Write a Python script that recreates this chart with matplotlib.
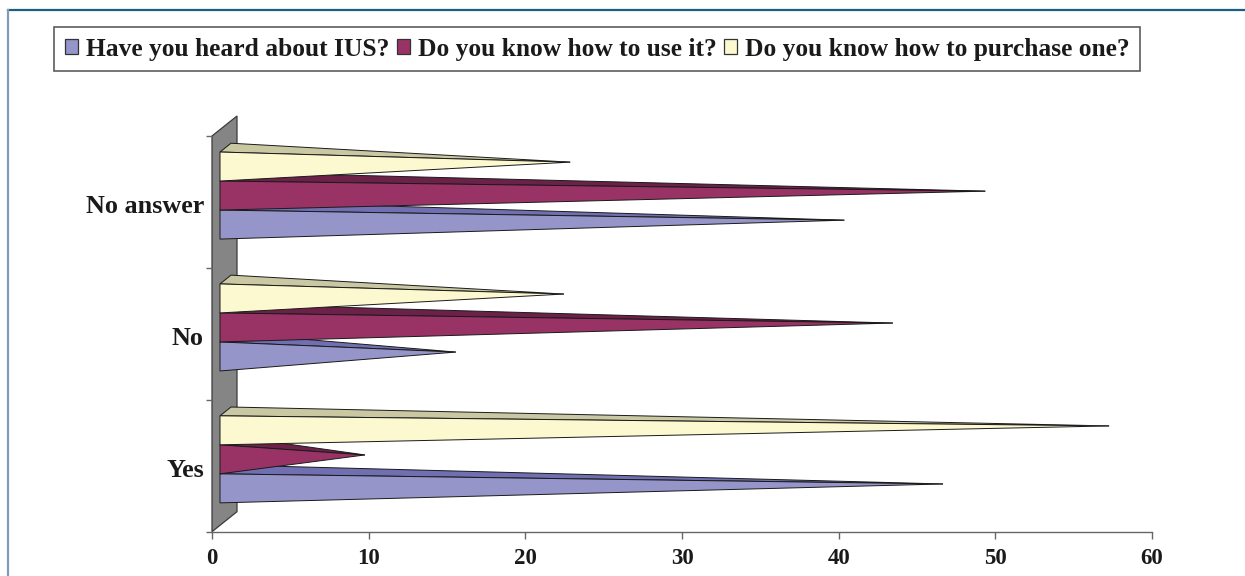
import matplotlib
matplotlib.use("Agg")
import matplotlib.pyplot as plt
from matplotlib.patches import Polygon, Patch
from matplotlib.lines import Line2D

# ---- data -------------------------------------------------------------
categories = ["Yes", "No", "No answer"]
series_names = [
    "Have you heard about IUS?",
    "Do you know how to use it?",
    "Do you know how to purchase one?",
]
heard = [45.8, 14.7, 39.5]
know_use = [8.9, 42.6, 48.5]
know_buy = [56.4, 21.6, 22.0]
x_ticks = [0, 10, 20, 30, 40, 50, 60]

# ---- style ------------------------------------------------------------
front_colors = ["#9595c9", "#993366", "#fcf8d0"]
top_colors = ["#6f6fb2", "#6c2248", "#c9c8a2"]
wall_color = "#858585"
edge_color = "#1a1a1a"

plt.rcParams["font.family"] = ["Liberation Serif", "DejaVu Serif"]
plt.rcParams["font.weight"] = "bold"

FIG_W, FIG_H, DPI = 1245, 576, 100
fig = plt.figure(figsize=(FIG_W / DPI, FIG_H / DPI), dpi=DPI)

ax_left, ax_right = 212, 1152
ax_bottom, ax_top = 531.7, 136
ax = fig.add_axes([ax_left / FIG_W, (FIG_H - ax_bottom) / FIG_H,
                   (ax_right - ax_left) / FIG_W, (ax_bottom - ax_top) / FIG_H])
ax.set_xlim(0, 60)
ax.set_ylim(0, len(categories))

# size of one pixel in data units
px_x = 60 / (ax_right - ax_left)
px_y = len(categories) / (ax_bottom - ax_top)

# oblique depth of the plot box (pixels, right / up)
depth_dx, depth_dy = 25, 20
bar_front, bar_back = 0.32, 0.76
group_width = 0.66
bar_h = group_width / 3


def proj(x, y, d):
    """Project a point at depth fraction d onto the picture plane."""
    return (x + d * depth_dx * px_x, y + d * depth_dy * px_y)


# back wall
wall = Polygon([proj(0, 0, 0), proj(0, 3, 0), proj(0, 3, 1), proj(0, 0, 1)],
               closed=True, facecolor=wall_color, edgecolor="#3a3a3a",
               linewidth=0.9, clip_on=False, zorder=1)
ax.add_patch(wall)

# pyramid bars, drawn bottom to top so upper bars cover the top faces below
series = [heard, know_use, know_buy]
for k in range(len(categories)):
    for j, values in enumerate(series):
        v = values[k]
        y0 = k + 0.5 - group_width / 2 + j * bar_h
        y1 = y0 + bar_h
        ftl = proj(0, y1, bar_front)
        fbl = proj(0, y0, bar_front)
        btl = proj(0, y1, bar_back)
        apex = proj(v, (y0 + y1) / 2, (bar_front + bar_back) / 2)
        ax.add_patch(Polygon([ftl, btl, apex], closed=True,
                             facecolor=top_colors[j], edgecolor=edge_color,
                             linewidth=0.7, clip_on=False, zorder=2))
        ax.add_patch(Polygon([ftl, fbl, apex], closed=True,
                             facecolor=front_colors[j], edgecolor=edge_color,
                             linewidth=0.7, clip_on=False, zorder=2))

# axes cosmetics
for side in ("top", "right", "left"):
    ax.spines[side].set_visible(False)
ax.spines["bottom"].set_color("#666666")
ax.spines["bottom"].set_linewidth(1.0)
ax.set_xticks(x_ticks)
ax.set_xticklabels([str(t) for t in x_ticks])
ax.tick_params(axis="x", direction="out", length=5, width=1.0, color="#666666",
               labelsize=16.5, pad=7)
for lbl in ax.get_xticklabels():
    lbl.set_color("#1a1a1a")
ax.set_yticks(range(len(categories) + 1))
ax.set_yticklabels([])
ax.tick_params(axis="y", direction="out", length=4, width=1.0, color="#666666")
ax.patch.set_visible(False)

# category labels
for k, name in enumerate(categories):
    ax.text(-8 * px_x, k + 0.5 - 11.5 * px_y, name, ha="right", va="baseline",
            fontsize=18.8, fontweight="bold", color="#1a1a1a")

# legend
handles = [Patch(facecolor=c, edgecolor="#333333", linewidth=0.9)
           for c in front_colors]
leg = fig.legend(handles, series_names, ncol=3, loc="upper left",
                 bbox_to_anchor=(54 / FIG_W, 1 - 27 / FIG_H),
                 bbox_transform=fig.transFigure, borderaxespad=0,
                 frameon=True, fancybox=False, prop={"size": 18.4, "weight": "bold"},
                 handlelength=0.52, handleheight=0.52, handletextpad=0.3,
                 columnspacing=0.3, borderpad=0.42)
leg.get_frame().set_edgecolor("#333333")
leg.get_frame().set_linewidth(1.2)
for t in leg.get_texts():
    t.set_color("#1a1a1a")

# page frame lines
fig.add_artist(Line2D([8 / FIG_W, 1], [1 - 10 / FIG_H, 1 - 10 / FIG_H],
                      transform=fig.transFigure, color="#1d5f80", linewidth=1.6))
fig.add_artist(Line2D([8 / FIG_W, 8 / FIG_W], [0, 1 - 10 / FIG_H],
                      transform=fig.transFigure, color="#7f9dba", linewidth=1.6))

fig.savefig("out.png", dpi=DPI, facecolor="white")
